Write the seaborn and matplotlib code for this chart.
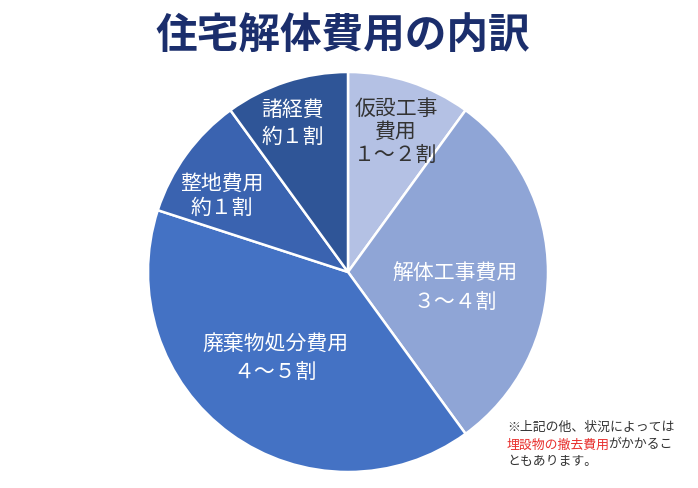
import matplotlib
matplotlib.use('Agg')
import matplotlib.pyplot as plt
import seaborn as sns

# データ（時計回り、真上から）
categories = ['仮設工事費用', '解体工事費用', '廃棄物処分費用', '整地費用', '諸経費']
shares = [10, 30, 40, 10, 10]
label_texts = ['仮設工事\n費用\n１～２割', '解体工事費用\n３～４割', '廃棄物処分費用\n４～５割',
               '整地費用\n約１割', '諸経費\n約１割']
colors = ['#B4C1E4', '#8FA5D6', '#4472C4', '#3A63B0', '#2F5597']

sns.set_style('white')
plt.rcParams['font.family'] = ['Noto Sans CJK JP', 'DejaVu Sans']

fig = plt.figure(figsize=(6.98, 4.88), dpi=100)
ax = fig.add_axes([0, 0, 1, 1])

ax.pie(shares, colors=sns.color_palette(colors), startangle=90, counterclock=False,
       center=(348, 216), radius=200,
       wedgeprops={'edgecolor': 'white', 'linewidth': 1.8})
ax.set_xlim(0, 698)
ax.set_ylim(0, 488)
ax.set_aspect('equal')
ax.axis('off')

# ラベル位置（ピクセル、上から）
label_pos = [(396, 132), (455, 288), (275, 358), (222, 196), (293, 123)]
label_colors = ['#333333', 'white', 'white', 'white', 'white']
label_gap = [1.05, 1.4, 1.4, 1.1, 1.3]
for txt, (x, y), c, g in zip(label_texts, label_pos, label_colors, label_gap):
    ax.text(x, 488 - y, txt, ha='center', va='center', fontsize=15, color=c,
            linespacing=g)

# タイトル
ax.text(343, 488 - 37, '住宅解体費用の内訳', ha='center', va='center',
        fontsize=30, fontweight='bold', color='#1B2E6C')

# 注記
fs = 9.3
ax.text(507, 488 - 427, '※上記の他、状況によっては', ha='left', va='center',
        fontsize=fs, color='#333333')
t = ax.text(507, 488 - 445, '埋設物の撤去費用', ha='left', va='center',
            fontsize=fs, color='#E8302E')
ax.annotate('がかかるこ', xycoords=t, xy=(1, 0.5), xytext=(-1.5, 0),
            textcoords='offset points', ha='left', va='center',
            fontsize=fs, color='#333333')
ax.text(507, 488 - 462, 'ともあります。', ha='left', va='center',
        fontsize=fs, color='#333333')

fig.savefig('out.png', dpi=100, facecolor='white')
